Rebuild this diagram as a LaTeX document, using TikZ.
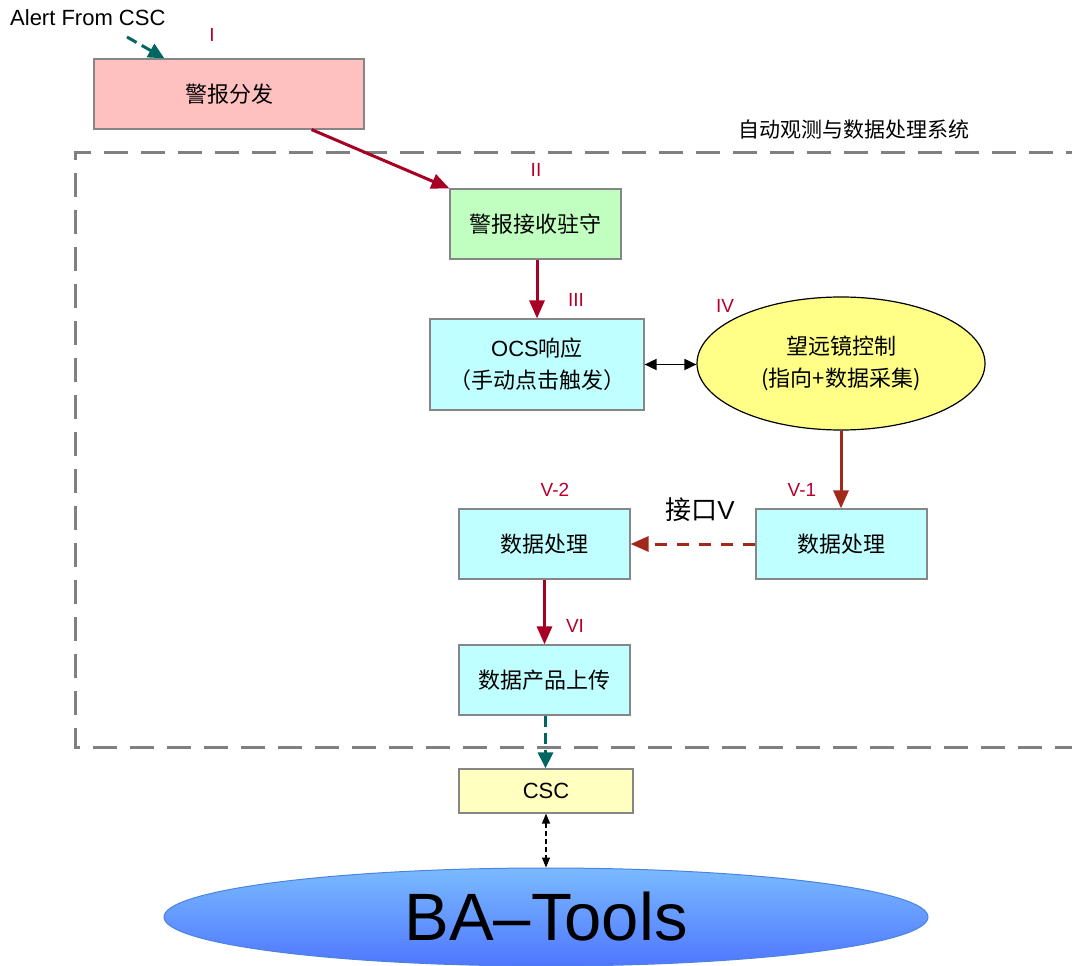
\documentclass[tikz,border=0pt]{standalone}
\usepackage{fontspec}
\setmainfont{Liberation Sans}
\newfontfamily\zhfont{Noto Sans CJK SC}
\usetikzlibrary{arrows.meta,shapes.geometric}

\definecolor{boxline}{HTML}{868686}
\definecolor{framegray}{HTML}{808080}
\definecolor{pinkfill}{HTML}{FFC0C0}
\definecolor{greenfill}{HTML}{C0FFC0}
\definecolor{cyanfill}{HTML}{C0FFFF}
\definecolor{yellowfill}{HTML}{FFFF88}
\definecolor{cscfill}{HTML}{FFFFC0}
\definecolor{tagred}{HTML}{B8002C}
\definecolor{arrred}{HTML}{A80024}
\definecolor{darkred}{HTML}{A3281C}
\definecolor{teal}{HTML}{00665F}
\definecolor{batop}{HTML}{7ABAFF}
\definecolor{babottom}{HTML}{4F77FF}
\definecolor{baline}{HTML}{4A84E0}

\tikzset{
  box/.style={rectangle, draw=boxline, line width=1.2pt, inner sep=0pt,
    align=center, font=\zhfont\fontsize{22}{32}\selectfont},
  tag/.style={text=tagred, inner sep=0pt, font=\fontsize{19}{22}\selectfont},
  redarrow/.style={draw=arrred, line width=3pt,
    -{Triangle[length=18pt,width=15pt]}},
  brownarrow/.style={draw=darkred, line width=3pt,
    -{Triangle[length=18pt,width=15pt]}},
  tealarrow/.style={draw=teal, line width=3pt, dash pattern=on 11pt off 6pt,
    -{Triangle[length=16pt,width=15pt]}},
  framebox/.style={draw=framegray, line width=3pt, dash pattern=on 24pt off 13pt},
}

\begin{document}
\begin{tikzpicture}[x=1pt,y=-1pt]
\path[use as bounding box] (0,0) rectangle (1072,966);

% system boundary (open to the right)
\draw[framebox] (1090,152) -- (75,152) -- (75,747) -- (1090,747);
\node[inner sep=0pt, font=\zhfont\fontsize{21}{24}\selectfont] (syslabel) at (854,130) {自动观测与数据处理系统};

% nodes
\node[anchor=base west, inner sep=0pt, font=\fontsize{22}{26}\selectfont] (alert) at (10,26) {Alert From CSC};
\coordinate (alertsrc) at (127,37);

\node[box, fill=pinkfill, minimum width=270pt, minimum height=70pt] (dist) at (229,94) {警报分发};
\node[box, fill=greenfill, minimum width=171pt, minimum height=70pt] (recv) at (535.5,224) {警报接收驻守};
\node[box, fill=cyanfill, minimum width=214pt, minimum height=91pt] (ocs) at (537,364.5)
  {\fontspec{Liberation Sans}OCS\zhfont 响应\\（手动点击触发）};
\node[ellipse, draw=black, line width=1.2pt, fill=yellowfill, inner sep=0pt,
  minimum width=288pt, minimum height=133pt, align=center,
  font=\zhfont\fontsize{22}{32}\selectfont] (tel) at (841,363.5)
  {望远镜控制\\(指向+数据采集)};
\node[box, fill=cyanfill, minimum width=171pt, minimum height=70pt] (procR) at (841.5,544) {数据处理};
\node[box, fill=cyanfill, minimum width=171pt, minimum height=70pt] (procL) at (544.5,544) {数据处理};
\node[box, fill=cyanfill, minimum width=171pt, minimum height=70pt] (upload) at (544.5,680) {数据产品上传};
\node[box, fill=cscfill, minimum width=174pt, minimum height=44pt,
  font=\fontsize{22}{26}\selectfont] (csc) at (546,791) {CSC};
\node[ellipse, draw=baline, line width=1pt, top color=batop, bottom color=babottom,
  inner sep=0pt, minimum width=764pt, minimum height=98pt,
  font=\fontsize{67}{70}\selectfont] (ba) at (546,917) {BA–Tools};

% step labels
\node[tag] (tI) at (212,35) {I};
\node[tag] (tII) at (536,170) {II};
\node[tag] (tIII) at (576,300) {III};
\node[tag] (tIV) at (725,306) {IV};
\node[tag] (tV2) at (555,490) {V-2};
\node[tag] (tV1) at (802,490) {V-1};
\node[tag] (tVI) at (575,626) {VI};
\node[inner sep=0pt, font=\zhfont\fontsize{26}{30}\selectfont] (iface) at (700,510)
  {接口\fontspec{Liberation Sans}V};

% connectors
\draw[tealarrow] (alertsrc) -- ([xshift=71pt]dist.north west);
\draw[redarrow] ([xshift=-53pt]dist.south east) -- (recv.north west);
\draw[redarrow] ([xshift=1.5pt]recv.south) -- ([xshift=1.5pt]recv.south |- ocs.north);
\draw[black, line width=1.8pt, {Triangle[length=12pt,width=11pt]}-{Triangle[length=12pt,width=11pt]}]
  (ocs.east) -- (ocs.east -| tel.west);
\draw[brownarrow] (tel.south) -- (tel.south |- procR.north);
\draw[brownarrow, dash pattern=on 12pt off 10pt] (procR.west) -- (procL.east);
\draw[redarrow] (procL.south) -- (upload.north);
\draw[tealarrow] ([xshift=1pt]upload.south) -- ([xshift=1pt]upload.south |- csc.north);
\draw[black, line width=1.3pt, dash pattern=on 5pt off 3pt,
  {Triangle[length=10pt,width=8pt]}-{Triangle[length=10pt,width=8pt]}]
  (csc.south) -- (ba.north);
\end{tikzpicture}
\end{document}
